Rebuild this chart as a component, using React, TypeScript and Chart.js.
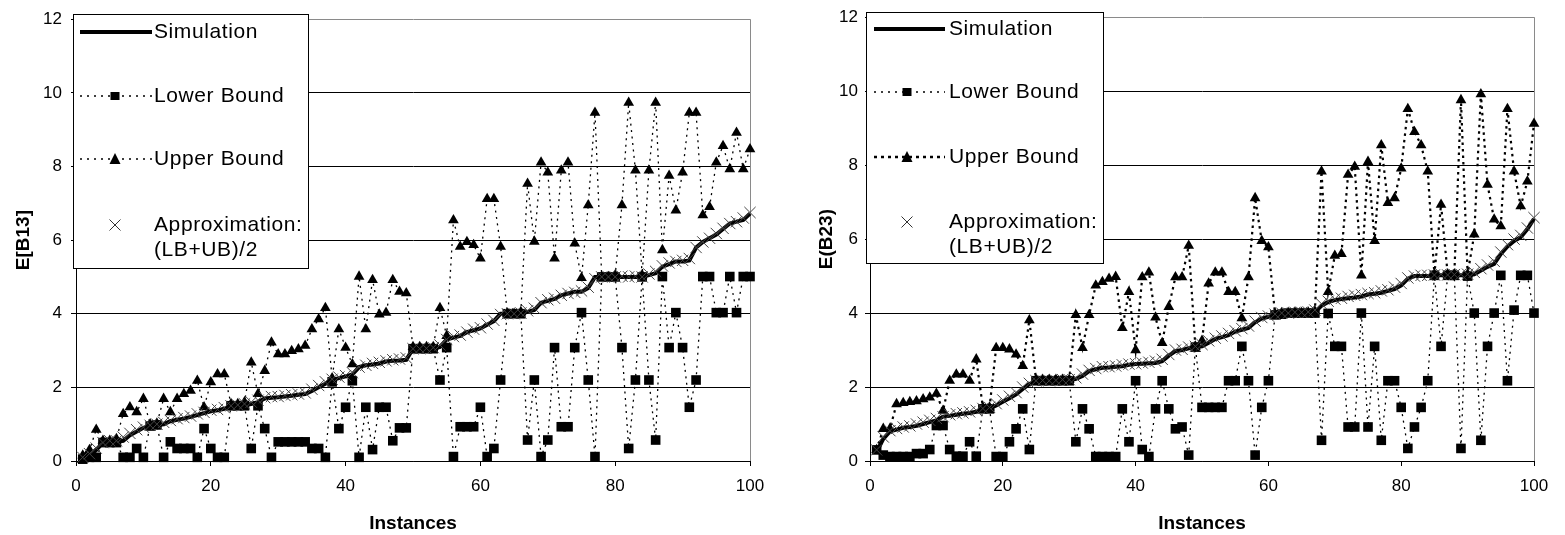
import React, { useEffect, useRef } from 'react';
import { Chart, registerables } from 'chart.js';

Chart.register(...registerables);

const FONT = '"Liberation Sans", Arial, Helvetica, sans-serif';

// Instance numbers (x categories)
const INSTANCES = Array.from({ length: 100 }, (_, i) => i + 1);
const X_RANGE = [0, 100];
const Y_RANGE = [0, 12];

// ---- Panel 1: E[B13] ----
const B13_SIM = [
  0.05, 0.15, 0.3, 0.5, 0.52, 0.52, 0.55, 0.7, 0.8, 0.9,
  0.95, 0.98, 1.0, 1.08, 1.12, 1.15, 1.2, 1.25, 1.3, 1.35,
  1.38, 1.42, 1.5, 1.5, 1.52, 1.55, 1.6, 1.7, 1.72, 1.73,
  1.75, 1.77, 1.8, 1.82, 1.9, 2.0, 2.1, 2.2, 2.25, 2.3,
  2.35, 2.55, 2.6, 2.62, 2.65, 2.7, 2.72, 2.73, 2.75, 3.05,
  3.05, 3.05, 3.05, 3.1, 3.3, 3.35, 3.4, 3.5, 3.55, 3.6,
  3.7, 3.8, 4.0, 4.0, 4.0, 4.0, 4.05, 4.1, 4.3, 4.35,
  4.4, 4.5, 4.55, 4.6, 4.6, 4.7, 5.0, 5.0, 5.0, 5.0,
  5.0, 5.0, 5.0, 5.0, 5.05, 5.1, 5.28, 5.35, 5.42, 5.42,
  5.45, 5.8, 5.95, 6.05, 6.15, 6.3, 6.45, 6.5, 6.55, 6.72,
];
const B13_LB = [
  0.05, 0.1, 0.1, 0.5, 0.5, 0.5, 0.1, 0.1, 0.34, 0.1,
  0.95, 0.98, 0.1, 0.52, 0.34, 0.34, 0.34, 0.1, 0.88, 0.34,
  0.1, 0.1, 1.5, 1.5, 1.5, 0.34, 1.5, 0.88, 0.1, 0.52,
  0.52, 0.52, 0.52, 0.52, 0.34, 0.34, 0.1, 2.15, 0.88, 1.46,
  2.18, 0.1, 1.46, 0.31, 1.46, 1.46, 0.55, 0.9, 0.9, 3.05,
  3.05, 3.05, 3.05, 2.2, 3.08, 0.12, 0.93, 0.93, 0.93, 1.46,
  0.12, 0.34, 2.2, 4.0, 4.0, 4.0, 0.57, 2.2, 0.12, 0.57,
  3.08, 0.93, 0.93, 3.08, 4.03, 2.2, 0.12, 5.0, 5.0, 5.0,
  3.08, 0.34, 2.2, 5.0, 2.2, 0.57, 5.01, 3.08, 4.03, 3.08,
  1.46, 2.2, 5.01, 5.01, 4.03, 4.03, 5.01, 4.03, 5.01, 5.01,
];
const B13_UB = [
  0.15, 0.3, 0.85, 0.55, 0.55, 0.6, 1.28, 1.46, 1.33, 1.69,
  1.0, 1.02, 1.69, 1.33, 1.69, 1.82, 1.91, 2.18, 1.46, 2.14,
  2.36, 2.36, 1.55, 1.55, 1.6, 2.68, 1.82, 2.45, 3.22, 2.9,
  2.9, 2.99, 3.04, 3.13, 3.58, 3.85, 4.16, 2.25, 3.58, 3.08,
  2.63, 5.01, 3.58, 4.92, 3.98, 4.03, 4.92, 4.6, 4.56, 3.1,
  3.1, 3.1, 3.1, 4.16, 3.4, 6.54, 5.82, 5.95, 5.87, 5.5,
  7.12, 7.12, 5.82, 4.0, 4.0, 4.05, 7.53, 5.96, 8.11, 7.84,
  5.5, 7.89, 8.11, 5.91, 4.97, 6.95, 9.46, 5.0, 5.0, 5.05,
  6.95, 9.73, 7.89, 5.05, 7.89, 9.73, 5.73, 7.75, 6.81, 7.84,
  9.46, 9.46, 6.68, 6.9, 8.11, 8.56, 7.93, 8.92, 7.93, 8.47,
];
const B13_APPROX = [
  0.1, 0.2, 0.35, 0.5, 0.55, 0.55, 0.65, 0.75, 0.85, 0.92,
  0.97, 1.0, 1.05, 1.1, 1.15, 1.18, 1.22, 1.28, 1.32, 1.38,
  1.4, 1.45, 1.5, 1.52, 1.55, 1.6, 1.65, 1.72, 1.75, 1.75,
  1.78, 1.8, 1.82, 1.85, 1.95, 2.05, 2.15, 2.22, 2.28, 2.32,
  2.4, 2.55, 2.6, 2.65, 2.68, 2.72, 2.75, 2.77, 2.8, 3.05,
  3.05, 3.06, 3.08, 3.15, 3.3, 3.38, 3.42, 3.5, 3.58, 3.62,
  3.72, 3.82, 3.98, 4.0, 4.0, 4.02, 4.08, 4.15, 4.3, 4.38,
  4.42, 4.5, 4.55, 4.58, 4.62, 4.72, 4.95, 5.0, 5.0, 5.0,
  5.02, 5.0, 5.02, 5.0, 5.08, 5.15, 5.3, 5.38, 5.42, 5.45,
  5.5, 5.8, 5.95, 6.05, 6.18, 6.32, 6.45, 6.5, 6.6, 6.75,
];

// ---- Panel 2: E(B23) ----
const B23_SIM = [
  0.25, 0.6, 0.8, 0.85, 0.9, 0.92, 0.95, 1.0, 1.05, 1.1,
  1.2, 1.22, 1.25, 1.28, 1.3, 1.33, 1.4, 1.42, 1.5, 1.6,
  1.7, 1.8, 1.95, 2.08, 2.15, 2.17, 2.17, 2.17, 2.17, 2.17,
  2.22, 2.3, 2.43, 2.48, 2.52, 2.53, 2.55, 2.56, 2.6, 2.62,
  2.63, 2.64, 2.65, 2.7, 2.85, 2.97, 3.0, 3.05, 3.08, 3.1,
  3.2, 3.3, 3.35, 3.4, 3.5, 3.55, 3.6, 3.75, 3.85, 3.9,
  3.95, 3.97, 4.0, 4.0, 4.0, 4.0, 4.02, 4.2, 4.3, 4.35,
  4.38, 4.4, 4.42, 4.45, 4.5, 4.52, 4.55, 4.6, 4.65, 4.75,
  4.93, 5.0, 5.0, 5.0, 5.02, 5.02, 5.02, 5.02, 5.02, 5.02,
  5.05, 5.15, 5.25, 5.33, 5.6, 5.8, 5.95, 6.05, 6.27, 6.55,
];
const B23_LB = [
  0.3, 0.16, 0.12, 0.12, 0.12, 0.12, 0.2, 0.2, 0.31, 0.96,
  0.96, 0.31, 0.13, 0.13, 0.52, 0.13, 1.41, 1.41, 0.12, 0.12,
  0.52, 0.87, 1.41, 0.31, 2.17, 2.17, 2.17, 2.17, 2.17, 2.17,
  0.52, 1.41, 0.87, 0.12, 0.12, 0.12, 0.12, 1.41, 0.52, 2.17,
  0.31, 0.12, 1.41, 2.17, 1.41, 0.87, 0.92, 0.16, 3.08, 1.45,
  1.45, 1.45, 1.45, 2.17, 2.17, 3.1, 2.17, 0.16, 1.45, 2.17,
  3.95, 3.97, 4.0, 4.0, 4.0, 4.0, 4.0, 0.56, 3.99, 3.1,
  3.1, 0.92, 0.92, 4.0, 0.92, 3.1, 0.56, 2.17, 2.17, 1.45,
  0.34, 0.92, 1.45, 2.17, 5.02, 3.1, 5.02, 5.02, 0.34, 5.0,
  4.0, 0.56, 3.1, 4.0, 5.02, 2.17, 4.08, 5.02, 5.02, 4.0,
];
const B23_UB = [
  0.3, 0.87, 0.87, 1.54, 1.57, 1.6, 1.62, 1.67, 1.72, 1.82,
  1.36, 2.17, 2.34, 2.34, 2.17, 2.75, 1.45, 1.45, 3.06, 3.06,
  3.02, 2.88, 2.57, 3.81, 2.2, 2.2, 2.2, 2.2, 2.2, 2.2,
  3.95, 3.06, 3.95, 4.75, 4.84, 4.93, 4.98, 3.6, 4.57, 3.0,
  4.97, 5.1, 3.88, 3.19, 4.17, 4.97, 4.97, 5.82, 3.1, 3.25,
  4.8, 5.1, 5.1, 4.57, 4.57, 3.86, 4.97, 7.11, 5.95, 5.78,
  3.98, 4.0, 4.0, 4.02, 4.0, 4.02, 4.05, 7.83, 4.57, 5.55,
  5.6, 7.74, 7.96, 5.02, 8.09, 5.95, 8.54, 6.98, 7.11, 7.91,
  9.52, 8.9, 8.54, 7.83, 5.05, 6.93, 5.05, 5.05, 9.76, 5.05,
  6.13, 9.92, 7.47, 6.53, 6.35, 9.52, 7.83, 6.89, 7.56, 9.12,
];
const B23_APPROX = [
  0.3, 0.65, 0.82, 0.88, 0.92, 0.95, 1.0, 1.05, 1.1, 1.15,
  1.2, 1.25, 1.28, 1.3, 1.33, 1.37, 1.42, 1.45, 1.55, 1.65,
  1.75, 1.85, 2.0, 2.1, 2.17, 2.18, 2.17, 2.18, 2.2, 2.2,
  2.25, 2.35, 2.45, 2.5, 2.55, 2.55, 2.57, 2.6, 2.62, 2.63,
  2.65, 2.67, 2.7, 2.75, 2.88, 3.0, 3.02, 3.08, 3.1, 3.15,
  3.25, 3.32, 3.38, 3.45, 3.52, 3.58, 3.65, 3.78, 3.88, 3.92,
  3.97, 4.0, 4.0, 4.02, 4.02, 4.03, 4.08, 4.25, 4.32, 4.38,
  4.4, 4.45, 4.48, 4.5, 4.53, 4.55, 4.6, 4.63, 4.7, 4.8,
  4.95, 5.0, 5.02, 5.02, 5.03, 5.05, 5.03, 5.04, 5.05, 5.05,
  5.1, 5.2, 5.3, 5.4, 5.65, 5.85, 6.0, 6.1, 6.3, 6.58,
];

const LEGEND_LABELS = ['Simulation', 'Lower Bound', 'Upper Bound', 'Approximation:', '(LB+UB)/2'];

function pts(ys: number[]) {
  return INSTANCES.map((x, i) => ({ x, y: ys[i] }));
}

const boxLegend = {
  id: 'boxLegend',
  afterDraw(chart: any, _args: any, o: any) {
    const ctx = chart.ctx as CanvasRenderingContext2D;
    ctx.save();
    const [bx, by, bw, bh] = o.box;
    ctx.fillStyle = '#fff';
    ctx.fillRect(bx, by, bw, bh);
    ctx.strokeStyle = '#000';
    ctx.lineWidth = 1;
    ctx.strokeRect(bx + 0.5, by + 0.5, bw, bh);
    const [r1, r2, r3, r4, r5] = o.rows;
    const line = (y: number, w: number, dash: number[]) => {
      ctx.setLineDash(dash);
      ctx.lineWidth = w;
      ctx.strokeStyle = '#000';
      ctx.beginPath();
      ctx.moveTo(o.x1, y);
      ctx.lineTo(o.x2, y);
      ctx.stroke();
      ctx.setLineDash([]);
    };
    line(r1, 4, []);
    line(r2, 1.3, [2, 5]);
    ctx.fillStyle = '#000';
    ctx.fillRect(o.mx - 4.5, r2 - 4, 9, 8);
    line(r3, o.ubWidth, o.ubLegendDash);
    ctx.beginPath();
    ctx.moveTo(o.mx, r3 - 6);
    ctx.lineTo(o.mx + 5.5, r3 + 5);
    ctx.lineTo(o.mx - 5.5, r3 + 5);
    ctx.closePath();
    ctx.fill();
    ctx.strokeStyle = '#333';
    ctx.lineWidth = 1;
    ctx.beginPath();
    ctx.moveTo(o.mx - 5.5, r4 - 5.5);
    ctx.lineTo(o.mx + 5.5, r4 + 5.5);
    ctx.moveTo(o.mx + 5.5, r4 - 5.5);
    ctx.lineTo(o.mx - 5.5, r4 + 5.5);
    ctx.stroke();
    ctx.fillStyle = '#000';
    ctx.font = `21px ${FONT}`;
    (ctx as any).letterSpacing = '0.6px';
    ctx.textBaseline = 'middle';
    ctx.textAlign = 'left';
    const ys = [r1, r2, r3, r4, r5];
    LEGEND_LABELS.forEach((t, i) => ctx.fillText(t, o.tx, ys[i]));
    ctx.restore();
  },
};

type PanelProps = {
  left: number;
  width: number;
  yTitle: string;
  sim: number[];
  lb: number[];
  ub: number[];
  approx: number[];
  yWidth: number;
  padTop: number;
  padRight: number;
  yTitlePad: number;
  yTickPad: number;
  ubWidth: number;
  ubDash: number[];
  legend: any;
};

function Panel(p: PanelProps) {
  const ref = useRef<HTMLCanvasElement | null>(null);
  useEffect(() => {
    if (!ref.current) return;
    const tickFont = { family: FONT, size: 17 };
    const titleFont = { family: FONT, size: 19, weight: 'bold' as const };
    const chart = new Chart(ref.current, {
      type: 'line',
      data: {
        datasets: [
          {
            label: 'Approximation: (LB+UB)/2',
            data: pts(p.approx),
            showLine: false,
            pointStyle: 'crossRot',
            pointRadius: 8,
            pointBorderColor: '#444',
            pointBackgroundColor: '#444',
            pointBorderWidth: 1,
            borderColor: '#444',
            clip: false,
          },
          {
            label: 'Simulation',
            data: pts(p.sim),
            borderColor: '#000',
            borderWidth: 4,
            pointRadius: 0,
            tension: 0,
            clip: false,
          },
          {
            label: 'Lower Bound',
            data: pts(p.lb),
            borderColor: '#000',
            borderWidth: 1.3,
            borderDash: [2, 4.5],
            pointStyle: 'rect',
            pointRadius: 6.8,
            pointBackgroundColor: '#000',
            pointBorderColor: '#000',
            pointBorderWidth: 0,
            tension: 0,
            clip: false,
          },
          {
            label: 'Upper Bound',
            data: pts(p.ub),
            borderColor: '#000',
            borderWidth: p.ubWidth,
            borderDash: p.ubDash,
            pointStyle: 'triangle',
            pointRadius: 6.2,
            pointBackgroundColor: '#000',
            pointBorderColor: '#000',
            pointBorderWidth: 0,
            tension: 0,
            clip: false,
          },
        ],
      },
      options: {
        animation: false,
        responsive: false,
        events: [],
        layout: { padding: { left: 0, top: p.padTop, right: p.padRight, bottom: 0 } },
        plugins: {
          legend: { display: false },
          tooltip: { enabled: false },
          boxLegend: p.legend,
        } as any,
        scales: {
          x: {
            type: 'linear',
            min: X_RANGE[0],
            max: X_RANGE[1],
            ticks: { stepSize: 20, color: '#000', font: tickFont, padding: 10, maxRotation: 0 },
            grid: {
              drawOnChartArea: true,
              color: (c: any) => (c.tick && c.tick.value === 100 ? '#8a8a8a' : 'rgba(0,0,0,0)'),
              tickColor: '#000',
              tickLength: 5,
            },
            border: { display: true, color: '#000', width: 1 },
            title: {
              display: true,
              text: 'Instances',
              color: '#000',
              font: titleFont,
              padding: { top: 0, bottom: 0 },
            },
            afterFit: (s: any) => {
              s.height = 74;
            },
          },
          y: {
            type: 'linear',
            min: Y_RANGE[0],
            max: Y_RANGE[1],
            ticks: { stepSize: 2, color: '#000', font: tickFont, padding: p.yTickPad },
            grid: {
              color: (c: any) => (c.tick && c.tick.value === 12 ? '#8a8a8a' : '#000'),
              tickColor: '#000',
              tickLength: 5,
              lineWidth: 1,
            },
            border: { display: true, color: '#000', width: 1 },
            title: {
              display: true,
              text: p.yTitle,
              color: '#000',
              font: titleFont,
              padding: { top: p.yTitlePad, bottom: 0 },
            },
            afterFit: (s: any) => {
              s.width = p.yWidth;
            },
          },
        },
      },
      plugins: [boxLegend as any],
    } as any);
    return () => chart.destroy();
  }, []);
  return (
    <canvas
      ref={ref}
      width={p.width}
      height={535}
      style={{ position: 'absolute', left: p.left, top: 0, width: p.width, height: 535 }}
    />
  );
}

export default function App() {
  return (
    <div style={{ position: 'fixed', left: 0, top: 0, width: 1565, height: 535, background: '#fff' }}>
      <Panel
        left={0}
        width={782}
        yTitle="E[B13]"
        sim={B13_SIM}
        lb={B13_LB}
        ub={B13_UB}
        approx={B13_APPROX}
        yWidth={76}
        padTop={15}
        padRight={32}
        yTitlePad={12}
        yTickPad={9}
        ubWidth={1.3}
        ubDash={[2, 4.5]}
        legend={{
          box: [73, 14, 235, 254],
          rows: [32, 96, 159, 225, 250],
          x1: 80,
          x2: 152,
          mx: 115,
          tx: 154,
          ubWidth: 1.3,
          ubLegendDash: [2, 5],
        }}
      />
      <Panel
        left={782}
        width={783}
        yTitle="E(B23)"
        sim={B23_SIM}
        lb={B23_LB}
        ub={B23_UB}
        approx={B23_APPROX}
        yWidth={88}
        padTop={12}
        padRight={31}
        yTitlePad={33}
        yTickPad={7}
        ubWidth={2.2}
        ubDash={[2.5, 4]}
        legend={{
          box: [84, 12, 237, 251],
          rows: [29, 92, 157, 222, 247],
          x1: 92,
          x2: 163,
          mx: 125,
          tx: 167,
          ubWidth: 2.5,
          ubLegendDash: [3, 4],
        }}
      />
    </div>
  );
}
